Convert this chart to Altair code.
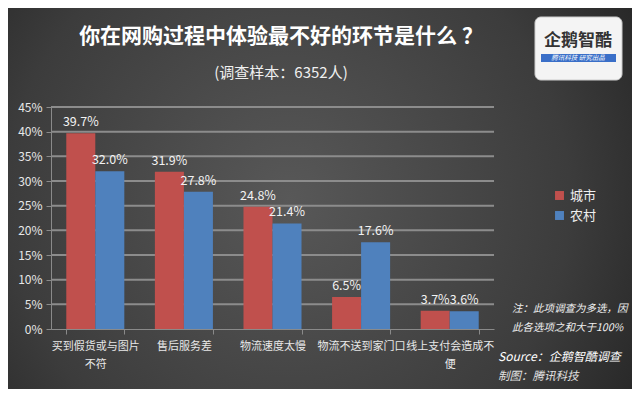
import altair as alt
import pandas as pd

categories = ["买到假货或与图片不符", "售后服务差", "物流速度太慢", "物流不送到家门口", "线上支付会造成不便"]
city = [39.7, 31.9, 24.8, 6.5, 3.7]
rural = [32.0, 27.8, 21.4, 17.6, 3.6]
series = ["城市", "农村"]
colors = ["#C0504D", "#4F81BD"]
y_ticks = [0, 0.05, 0.10, 0.15, 0.20, 0.25, 0.30, 0.35, 0.40, 0.45]

rows = []
for c, a, b in zip(categories, city, rural):
    rows.append({"cat": c, "series": series[0], "v": a / 100})
    rows.append({"cat": c, "series": series[1], "v": b / 100})
df = pd.DataFrame(rows)
grid_df = pd.DataFrame({"v": y_ticks[1:]})

FONT = "Noto Sans CJK SC"
W, H = 443, 222
PL, PT = 43, 99
TW, TH = 624, 381

label_expr = ("datum.label == '买到假货或与图片不符' ? ['买到假货或与图片','不符'] : "
              "datum.label == '线上支付会造成不便' ? ['线上支付会造成不','便'] : datum.label")

yscale = alt.Scale(domain=[0, 0.45], nice=False)
yaxis = alt.Axis(values=y_ticks, format=".0%", labelColor="#e8e8e8",
                 labelFontSize=12, labelFont=FONT, grid=False,
                 domainColor="#8a8a8a", tickColor="#8a8a8a",
                 tickSize=5, labelPadding=4, zindex=1, labelOverlap=False)
xscale = alt.Scale(paddingInner=0.345, paddingOuter=0.1725)
xaxis = alt.Axis(labelExpr=label_expr, labelAngle=0, labelColor="#e8e8e8",
                 labelFontSize=11, labelFont=FONT, labelLineHeight=18,
                 labelPadding=6, tickBand="extent", tickColor="#8a8a8a",
                 domainColor="#8a8a8a", tickSize=5, grid=False, zindex=1,
                 labelOverlap=False)

def X():
    return alt.X("cat:N", sort=categories, title=None, scale=xscale, axis=xaxis)

def Y():
    return alt.Y("v:Q", title=None, scale=yscale, axis=yaxis)

one = alt.Data(values=[{}])

bg = alt.Chart(one).mark_rect(
    fill=alt.Gradient(gradient="radial", x1=0.45, y1=0.5, r1=0.0, x2=0.45, y2=0.5, r2=0.75,
                      stops=[alt.GradientStop(color="#585858", offset=0),
                             alt.GradientStop(color="#3c3c3c", offset=0.6),
                             alt.GradientStop(color="#1c1c1c", offset=1)])
).encode(x=alt.value(-PL), x2=alt.value(TW - PL), y=alt.value(-PT), y2=alt.value(TH - PT))

grid = alt.Chart(grid_df).mark_rule(stroke="#8c8c8c", strokeWidth=2).encode(
    y=Y(), x=alt.value(0), x2=alt.value(W))

bars = alt.Chart(df).mark_bar().encode(
    x=X(), y=Y(),
    xOffset=alt.XOffset("series:N", sort=series),
    color=alt.Color("series:N", sort=series, title=None,
                    scale=alt.Scale(domain=series, range=colors),
                    legend=alt.Legend(orient="none", legendX=502, legendY=82,
                                      symbolType="square", symbolSize=80,
                                      labelColor="#f0f0f0", labelFontSize=13,
                                      labelFont=FONT, rowPadding=6)),
)

labels = alt.Chart(df).mark_text(dy=-11, color="#f2f2f2", fontSize=12.5, font=FONT).encode(
    x=X(), y=Y(),
    xOffset=alt.XOffset("series:N", sort=series),
    text=alt.Text("v:Q", format=".1%"),
)

def txt(s, x, y, size, **kw):
    return alt.Chart(one).mark_text(font=FONT, fontSize=size, **kw).encode(
        x=alt.value(x), y=alt.value(y), text=alt.value(s))

title = txt("你在网购过程中体验最不好的环节是什么 ？", 281 - 8 - PL, 37 - 8 - PT, 21,
            fontWeight="bold", color="#ffffff")
sub = txt("(调查样本：6352人)", 281 - 8 - PL, 73 - 8 - PT, 15, color="#f0f0f0")

logo_box = alt.Chart(one).mark_rect(fill="#f4f4f4", cornerRadius=6, stroke="#cccccc").encode(
    x=alt.value(535 - 8 - PL), x2=alt.value(622 - 8 - PL),
    y=alt.value(17 - 8 - PT), y2=alt.value(80 - 8 - PT))
logo_bar = alt.Chart(one).mark_rect(fill="#3a6fc8").encode(
    x=alt.value(541 - 8 - PL), x2=alt.value(616 - 8 - PL),
    y=alt.value(54 - 8 - PT), y2=alt.value(62 - 8 - PT))
logo_t1 = txt("企鹅智酷", 578 - 8 - PL, 41 - 8 - PT, 17, color="#333333", fontWeight="bold")
logo_t2 = txt("腾讯科技  研究出品", 578 - 8 - PL, 58 - 8 - PT, 6.5, color="#ffffff",
              fontStyle="italic")

note1 = txt("注：此项调查为多选，因", 512 - 8 - PL, 309 - 8 - PT, 10.5, align="left",
            fontStyle="italic", color="#f0f0f0")
note2 = txt("此各选项之和大于100%", 512 - 8 - PL, 328 - 8 - PT, 10.5, align="left",
            fontStyle="italic", color="#f0f0f0")
src = txt("Source：企鹅智酷调查", 498 - 8 - PL, 357 - 8 - PT, 12, align="left",
          fontStyle="italic", color="#ffffff")
made = txt("制图：腾讯科技", 498 - 8 - PL, 377 - 8 - PT, 11.5, align="left",
           fontStyle="italic", color="#e0e0e0")

chart = alt.layer(bg, title, sub, logo_box, logo_bar, logo_t1, logo_t2,
                  note1, note2, src, made, grid, bars, labels).properties(
    width=W, height=H,
    autosize=alt.AutoSizeParams(type="none"),
    padding={"left": PL, "top": PT, "right": TW - PL - W, "bottom": TH - PT - H},
    background="#2b2b2b",
).configure_view(stroke=None)

chart.save("out.html", embed_options={"renderer": "svg", "actions": False})
